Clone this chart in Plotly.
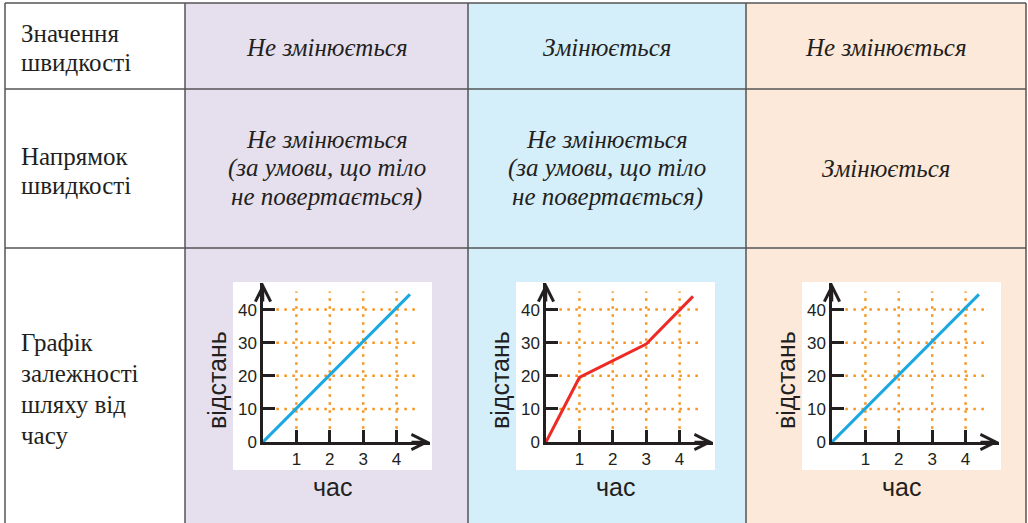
import plotly.graph_objects as go

W, H = 1028, 523

# --- дані таблиці ---
row_labels = [
    ["Значення", "швидкості"],
    ["Напрямок", "швидкості"],
    ["Графік", "залежності", "шляху від", "часу"],
]
speed_value = ["Не змінюється", "Змінюється", "Не змінюється"]
speed_direction = [
    ["Не змінюється", "(за умови, що тіло", "не повертається)"],
    ["Не змінюється", "(за умови, що тіло", "не повертається)"],
    ["Змінюється"],
]

# --- дані графіків ---
time_ticks = [1, 2, 3, 4]
dist_ticks = [0, 10, 20, 30, 40]
t_uniform = [0, 4.4]
s_uniform = [0, 44.6]
t_varied = [0, 1, 3, 4.4]
s_varied = [0, 19.5, 29.6, 44]
t_turning = [0, 4.4]
s_turning = [0, 44.6]

# геометрія таблиці (пікселі)
col_x = [5, 185, 468, 746, 1026]
row_y = [3, 89, 248, 530]
cell_colors = ["white", "#E6E0EE", "#D4EEFA", "#FDE9D9"]
border = "#555555"

serif = "Liberation Serif, serif"
sans = "Liberation Sans"
ink = "#231F20"


def px(x):
    return x / W


def py(y):
    return 1 - y / H


fig = go.Figure()
shapes = []
annotations = []

# фон клітинок
for c in range(4):
    shapes.append(dict(type="rect", xref="paper", yref="paper", layer="below",
                       x0=px(col_x[c]), x1=px(col_x[c + 1]),
                       y0=py(row_y[-1]), y1=py(row_y[0]),
                       fillcolor=cell_colors[c], line_width=0))

# лінії таблиці
for y in row_y[:-1]:
    shapes.append(dict(type="line", xref="paper", yref="paper",
                       x0=px(col_x[0]), x1=px(col_x[-1]), y0=py(y), y1=py(y),
                       line=dict(color=border, width=1.5)))
for x in col_x:
    shapes.append(dict(type="line", xref="paper", yref="paper",
                       x0=px(x), x1=px(x), y0=py(row_y[0]), y1=py(row_y[-1]),
                       line=dict(color=border, width=1.5)))


def text_block(lines, cx, cy, italic, anchor="center", gap=29, size=25):
    n = len(lines)
    for i, s in enumerate(lines):
        yy = cy + (i - (n - 1) / 2) * gap
        annotations.append(dict(
            text=s, xref="paper", yref="paper", x=px(cx), y=py(yy),
            xanchor=anchor, yanchor="middle", showarrow=False,
            font=dict(family=serif, size=size, color=ink,
                      style="italic" if italic else "normal")))


# перший стовпчик
text_block(row_labels[0], 19, 48, False, "left", 28)
text_block(row_labels[1], 19, 171, False, "left", 29)
text_block(row_labels[2], 19, 389, False, "left", 31)

for c in range(3):
    cx = (col_x[c + 1] + col_x[c + 2]) / 2
    text_block([speed_value[c]], cx, 48, True)
    text_block(speed_direction[c], cx, 168, True)

# --- графіки ---
origins = [263, 546, 832]
oy = 442
ux, uy = 33.4, 3.31
x_max, y_max = 5.0, 48.0
series = [(t_uniform, s_uniform, "#1BA8E0"),
          (t_varied, s_varied, "#EE2A24"),
          (t_turning, s_turning, "#1BA8E0")]
orange = "#F7941D"

for i, (ox, (tt, ss, col)) in enumerate(zip(origins, series)):
    xa = "x" if i == 0 else f"x{i + 1}"
    ya = "y" if i == 0 else f"y{i + 1}"
    # біле поле графіка
    shapes.append(dict(type="rect", xref="paper", yref="paper", layer="below",
                       x0=px(ox - 30), x1=px(ox + 169), y0=py(470), y1=py(282),
                       fillcolor="white", line_width=0))
    # пунктирна сітка
    for t in time_ticks:
        fig.add_trace(go.Scatter(x=[t, t], y=[4, 45.5], mode="lines",
                                 line=dict(color=orange, width=2.5, dash="2.5px,5.5px"),
                                 xaxis=xa, yaxis=ya, hoverinfo="skip"))
    for d in dist_ticks[1:]:
        fig.add_trace(go.Scatter(x=[0.4, 4.7], y=[d, d], mode="lines",
                                 line=dict(color=orange, width=2.5, dash="2.5px,5.5px"),
                                 xaxis=xa, yaxis=ya, hoverinfo="skip"))
    fig.add_trace(go.Scatter(x=tt, y=ss, mode="lines",
                             line=dict(color=col, width=3),
                             xaxis=xa, yaxis=ya, hoverinfo="skip"))

    ax_common = dict(showgrid=False, zeroline=False, showline=True, linecolor=ink,
                     linewidth=2.5, ticks="inside", tickcolor=ink, tickwidth=2.5,
                     ticklen=12, tickfont=dict(family=sans, size=17, color=ink),
                     fixedrange=True)
    fig.update_layout({
        ("xaxis" if i == 0 else f"xaxis{i + 1}"): dict(
            ax_common, domain=[px(ox), px(ox + ux * x_max)], range=[0, x_max],
            tickvals=time_ticks, anchor=ya),
        ("yaxis" if i == 0 else f"yaxis{i + 1}"): dict(
            ax_common, domain=[py(oy), py(oy - uy * y_max)], range=[0, y_max],
            tickvals=dist_ticks, anchor=xa),
    })
    # стрілки осей
    annotations.append(dict(x=x_max, y=0, ax=x_max - 0.6, ay=0, xref=xa, yref=ya,
                            axref=xa, ayref=ya, showarrow=True, arrowhead=5,
                            arrowsize=1.2, arrowwidth=2.5, arrowcolor=ink, text=""))
    annotations.append(dict(x=0, y=y_max, ax=0, ay=y_max - 6, xref=xa, yref=ya,
                            axref=xa, ayref=ya, showarrow=True, arrowhead=5,
                            arrowsize=1.2, arrowwidth=2.5, arrowcolor=ink, text=""))
    # підписи осей
    annotations.append(dict(text="час", xref="paper", yref="paper", x=px(ox + 69),
                            y=py(487), showarrow=False, xanchor="center", yanchor="middle",
                            font=dict(family=sans, size=25, color=ink)))
    annotations.append(dict(text="відстань", xref="paper", yref="paper", x=px(ox - 46),
                            y=py(380), showarrow=False, textangle=-90,
                            xanchor="center", yanchor="middle",
                            font=dict(family=sans, size=25, color=ink)))

fig.update_layout(
    width=W, height=533,
    margin=dict(l=0, r=0, t=0, b=0),
    paper_bgcolor="white",
    plot_bgcolor="rgba(0,0,0,0)",
    showlegend=False,
    shapes=shapes,
    annotations=annotations,
)

fig.write_html(
    "out.html",
    config={"displayModeBar": False},
    post_script="document.body.style.margin='0';",
)
